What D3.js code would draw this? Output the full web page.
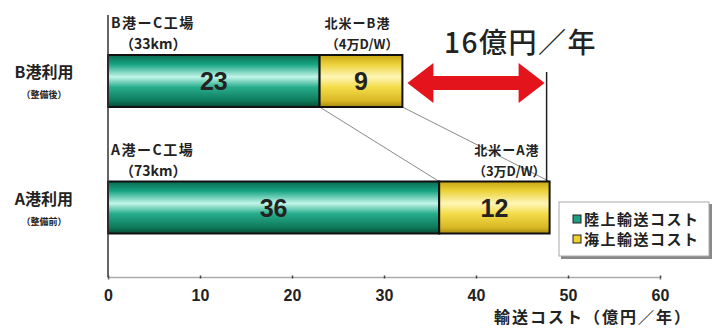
<!DOCTYPE html>
<html>
<head>
<meta charset="utf-8">
<script src="https://cdn.jsdelivr.net/npm/d3@7"></script>
<style>
  body { margin: 0; background: #fff; }
  text { font-family: "Liberation Sans", "Noto Sans CJK JP", sans-serif; fill: #222; }
  .jp { font-family: "Noto Sans CJK JP", "Liberation Sans", sans-serif; }
</style>
</head>
<body>
<div id="chart"></div>
<script>
// chart values
const categories = ["B港利用", "A港利用"];
const subLabels = ["（整備後）", "（整備前）"];
const landCost = [23, 36];
const seaCost = [9, 12];
const landRoute = ["B港ーC工場", "A港ーC工場"];
const landDist = ["（33km）", "（73km）"];
const seaRoute = ["北米ーB港", "北米ーA港"];
const seaShip = ["（4万D/W）", "（3万D/W）"];
const xTicks = [0, 10, 20, 30, 40, 50, 60];
const seriesNames = ["陸上輸送コスト", "海上輸送コスト"];
const savingLabel = "16億円／年";
const axisTitle = "輸送コスト（億円／年）";

const width = 712, height = 331;

var svg = d3.select("#chart").append("svg")
  .attr("width", width)
  .attr("height", height);

// gradients for the bars
var defs = svg.append("defs");
var gGreen = defs.append("linearGradient").attr("id", "gGreen")
  .attr("x1", 0).attr("y1", 0).attr("x2", 0).attr("y2", 1);
[["0%", "#0b6a4e"], ["18%", "#16a483"], ["42%", "#c2f5e8"], ["62%", "#27ad8c"], ["88%", "#0e7a5c"], ["100%", "#064a34"]]
  .forEach(s => gGreen.append("stop").attr("offset", s[0]).attr("stop-color", s[1]));
var gYellow = defs.append("linearGradient").attr("id", "gYellow")
  .attr("x1", 0).attr("y1", 0).attr("x2", 0).attr("y2", 1);
[["0%", "#c9a515"], ["18%", "#ecd23a"], ["42%", "#fff6b8"], ["62%", "#f3dc4a"], ["88%", "#d9b824"], ["100%", "#a88a10"]]
  .forEach(s => gYellow.append("stop").attr("offset", s[0]).attr("stop-color", s[1]));

// scales
var x = d3.scaleLinear().domain([0, 60]).range([108, 660]);
var y = d3.scalePoint().domain(categories).range([81, 207.5]);
const barH = 52;
const axisY = 277;

// connecting grey lines between the bars
var totals = landCost.map((d, i) => d + seaCost[i]);
[[landCost[0], landCost[1]], [totals[0], totals[1]]].forEach(function(p) {
  svg.append("line")
    .attr("x1", x(p[0])).attr("y1", y(categories[0]) + barH / 2)
    .attr("x2", x(p[1])).attr("y2", y(categories[1]) - barH / 2)
    .attr("stroke", "#8a8a8a").attr("stroke-width", 1);
});

// vertical marker line at the A total
svg.append("line")
  .attr("x1", x(totals[1]) - 3).attr("x2", x(totals[1]) - 3)
  .attr("y1", 72).attr("y2", y(categories[1]) - barH / 2)
  .attr("stroke", "#222").attr("stroke-width", 1.5);

// bars
var rows = svg.selectAll("g.row").data(categories).enter().append("g").attr("class", "row");

rows.append("rect")
  .attr("x", x(0))
  .attr("y", d => y(d) - barH / 2)
  .attr("width", (d, i) => x(landCost[i]) - x(0))
  .attr("height", barH)
  .attr("fill", "url(#gGreen)")
  .attr("stroke", "#111").attr("stroke-width", 2);

rows.append("rect")
  .attr("x", (d, i) => x(landCost[i]))
  .attr("y", d => y(d) - barH / 2)
  .attr("width", (d, i) => x(totals[i]) - x(landCost[i]))
  .attr("height", barH)
  .attr("fill", "url(#gYellow)")
  .attr("stroke", "#111").attr("stroke-width", 2);

// values inside bars
rows.append("text")
  .attr("x", (d, i) => (x(0) + x(landCost[i])) / 2)
  .attr("y", d => y(d) + 9)
  .attr("text-anchor", "middle")
  .style("font-size", "25px")
  .style("font-weight", "bold")
  .text((d, i) => landCost[i]);

rows.append("text")
  .attr("x", (d, i) => (x(landCost[i]) + x(totals[i])) / 2)
  .attr("y", d => y(d) + 9)
  .attr("text-anchor", "middle")
  .style("font-size", "25px")
  .style("font-weight", "bold")
  .text((d, i) => seaCost[i]);

// labels above bars
rows.append("text").attr("class", "jp")
  .attr("x", x(0) + 3)
  .attr("y", d => y(d) - barH / 2 - 27)
  .style("font-size", "14px").style("font-weight", "bold").style("letter-spacing", "1.5px")
  .text((d, i) => landRoute[i]);
rows.append("text").attr("class", "jp")
  .attr("x", x(0) + 12)
  .attr("y", d => y(d) - barH / 2 - 6)
  .style("font-size", "14px").style("font-weight", "bold")
  .text((d, i) => landDist[i]);

rows.append("text").attr("class", "jp")
  .attr("x", (d, i) => x(totals[i]) - 12 + i * 2)
  .attr("y", d => y(d) - barH / 2 - 27)
  .attr("text-anchor", "end")
  .style("font-size", "13px").style("font-weight", "bold").style("letter-spacing", "1px")
  .text((d, i) => seaRoute[i]);
rows.append("text").attr("class", "jp")
  .attr("x", (d, i) => x(totals[i]) - 4)
  .attr("y", d => y(d) - barH / 2 - 6)
  .attr("text-anchor", "end")
  .style("font-size", "13px").style("font-weight", "bold")
  .text((d, i) => seaShip[i]);

// category labels
rows.append("text").attr("class", "jp")
  .attr("x", 44)
  .attr("y", d => y(d) - 3)
  .attr("text-anchor", "middle")
  .style("font-size", "16px").style("font-weight", "bold")
  .text(d => d);
rows.append("text").attr("class", "jp")
  .attr("x", 44)
  .attr("y", d => y(d) + 17)
  .attr("text-anchor", "middle")
  .style("font-size", "9px").style("font-weight", "bold")
  .text((d, i) => subLabels[i]);

// red double arrow showing the saving
var ax0 = x(totals[0]) + 5, ax1 = x(totals[1]) - 5, ay = y(categories[0]) + 2;
var head = 26, hh = 20, sh = 7;
svg.append("path")
  .attr("d", `M${ax0},${ay} L${ax0 + head},${ay - hh} L${ax0 + head},${ay - sh} L${ax1 - head},${ay - sh}
    L${ax1 - head},${ay - hh} L${ax1},${ay} L${ax1 - head},${ay + hh} L${ax1 - head},${ay + sh}
    L${ax0 + head},${ay + sh} L${ax0 + head},${ay + hh} Z`)
  .attr("fill", "#e3141c");

svg.append("text").attr("class", "jp")
  .attr("x", 444)
  .attr("y", 53)
  .style("font-size", "28px")
  .style("font-weight", "500")
  .style("letter-spacing", "1.5px")
  .text(savingLabel);

// y axis line
svg.append("line")
  .attr("x1", x(0)).attr("x2", x(0))
  .attr("y1", 15).attr("y2", axisY)
  .attr("stroke", "#333").attr("stroke-width", 1.5);

// x axis
var xAxis = d3.axisBottom(x).tickValues(xTicks).tickSize(3).tickPadding(10);
var gx = svg.append("g").attr("transform", `translate(0,${axisY})`).call(xAxis);
gx.select(".domain").attr("stroke", "#aaa").attr("stroke-width", 1.5);
gx.selectAll(".tick line").attr("stroke", "#444").attr("y1", -1.5).attr("y2", 1.5).attr("stroke-width", 1.5);
gx.selectAll(".tick text")
  .style("font-size", "16px")
  .style("font-weight", "bold")
  .style("font-family", "Liberation Sans")
  .attr("fill", "#222");

svg.append("text").attr("class", "jp")
  .attr("x", 692)
  .attr("y", 323)
  .attr("text-anchor", "end")
  .style("font-size", "16px").style("font-weight", "bold").style("letter-spacing", "2px")
  .text(axisTitle);

// legend
var lg = svg.append("g").attr("transform", "translate(559,202)");
lg.append("rect").attr("x", 2).attr("y", 2).attr("width", 151).attr("height", 55).attr("fill", "#888");
lg.append("rect").attr("width", 150).attr("height", 54).attr("fill", "#fff").attr("stroke", "#aaa");
var legColors = ["#1aa080", "#ecd030"];
var items = lg.selectAll("g.item").data(seriesNames).enter().append("g")
  .attr("transform", (d, i) => `translate(14,${17 + i * 20})`);
items.append("rect").attr("x", 0).attr("y", -4).attr("width", 8).attr("height", 8)
  .attr("fill", (d, i) => legColors[i]).attr("stroke", "#222").attr("stroke-width", 1);
items.append("text").attr("class", "jp")
  .attr("x", 11).attr("y", 5.5)
  .style("font-size", "15px").style("font-weight", "bold").style("letter-spacing", "1.5px")
  .text(d => d);
</script>
</body>
</html>
